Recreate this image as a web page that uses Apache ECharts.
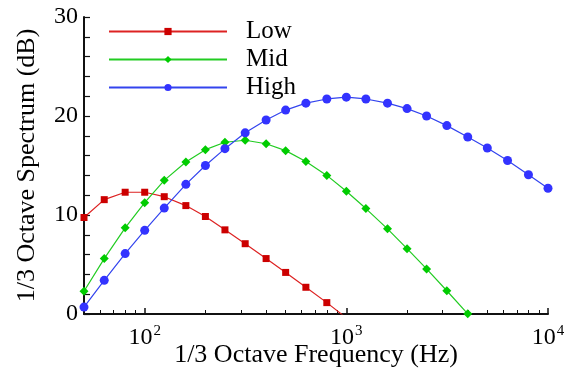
<!DOCTYPE html>
<html>
<head>
<meta charset="utf-8">
<script src="https://cdn.jsdelivr.net/npm/echarts@6/dist/echarts.min.js"></script>
<style>
  html, body { margin: 0; padding: 0; background: #fff; }
  #chart { width: 570px; height: 369px; }
</style>
</head>
<body>
<div id="chart"></div>
<script>
// 1/3 octave band centre frequencies (Hz)
const freqs = [50, 63, 80, 100, 125, 160, 200, 250, 315, 400, 500, 630, 800, 1000,
               1250, 1600, 2000, 2500, 3150, 4000, 5000, 6300, 8000, 10000];

// Spectrum levels (dB) per band
const lowLevels  = [9.75, 11.55, 12.3, 12.3, 11.85, 10.95, 9.85, 8.5, 7.1, 5.6, 4.2, 2.7, 1.15, -0.4];
const midLevels  = [2.3, 5.6, 8.7, 11.25, 13.5, 15.35, 16.6, 17.35, 17.55, 17.2, 16.5, 15.4, 14.0, 12.4,
                    10.65, 8.6, 6.6, 4.55, 2.35, 0.02];
const highLevels = [0.7, 3.4, 6.1, 8.45, 10.7, 13.1, 15.0, 16.7, 18.3, 19.6, 20.6, 21.3, 21.72, 21.9,
                    21.72, 21.3, 20.75, 20.0, 19.03, 17.88, 16.77, 15.5, 14.07, 12.7];

// Axis ticks
const majorFreqTicks = [100, 1000, 10000];
const minorFreqTicks = [60, 70, 80, 90, 200, 300, 400, 500, 600, 700, 800, 900,
                        2000, 3000, 4000, 5000, 6000, 7000, 8000, 9000];
const superscripts = { 100: '2', 1000: '3', 10000: '4' };

const FONT = 'Liberation Serif';
const AXIS_COLOR = '#111';

function pairs(levels) {
  return levels.map((v, i) => [freqs[i], v]);
}

const chart = echarts.init(document.getElementById('chart'), null, { renderer: 'canvas' });

const xCommon = {
  type: 'log',
  logBase: 10,
  min: 50,
  max: 10000,
  position: 'bottom',
  splitLine: { show: false },
  minorTick: { show: false }
};

chart.setOption({
  animation: false,
  backgroundColor: '#fff',
  textStyle: { fontFamily: FONT },
  grid: { left: 84, right: 22, top: 17, bottom: 55, outerBoundsMode: 'none', containLabel: false },
  legend: {
    orient: 'vertical',
    left: 103,
    top: 14,
    itemWidth: 118,
    itemHeight: 9,
    itemGap: 3,
    textStyle: {
      fontFamily: FONT,
      fontSize: 25,
      color: '#000',
      lineHeight: 20,
      padding: [0, 0, 0, 14]
    },
    data: ['Low', 'Mid', 'High']
  },
  xAxis: [
    Object.assign({}, xCommon, {
      name: '1/3 Octave Frequency (Hz)',
      nameLocation: 'middle',
      nameGap: 28,
      nameMoveOverlap: false,
      nameTextStyle: { fontFamily: FONT, fontSize: 26, color: '#000' },
      axisLine: { show: true, lineStyle: { color: AXIS_COLOR, width: 2 } },
      axisTick: { show: true, inside: true, length: 6, customValues: majorFreqTicks,
                  lineStyle: { color: AXIS_COLOR, width: 1.5 } },
      axisLabel: {
        show: true,
        customValues: majorFreqTicks,
        margin: 10,
        formatter: v => '{b|10}{s|' + (superscripts[Math.round(v)] || '') + '}',
        rich: {
          b: { fontFamily: FONT, fontSize: 24, color: '#000' },
          s: { fontFamily: FONT, fontSize: 15, color: '#000', padding: [0, 0, 12, 1] }
        }
      }
    }),
    Object.assign({}, xCommon, {
      axisLine: { show: false },
      axisLabel: { show: false },
      axisTick: { show: true, inside: true, length: 4, customValues: minorFreqTicks,
                  lineStyle: { color: AXIS_COLOR, width: 1 } }
    })
  ],
  yAxis: {
    type: 'value',
    min: 0,
    max: 30,
    interval: 2,
    name: '1/3 Octave Spectrum (dB)',
    nameLocation: 'middle',
    nameGap: 44,
    nameMoveOverlap: false,
    nameTextStyle: { fontFamily: FONT, fontSize: 26, color: '#000' },
    axisLine: { show: true, lineStyle: { color: AXIS_COLOR, width: 2 } },
    axisTick: { show: true, inside: true, length: 6, lineStyle: { color: AXIS_COLOR, width: 1.2 } },
    splitLine: { show: false },
    axisLabel: {
      fontFamily: FONT,
      fontSize: 24,
      color: '#000',
      margin: 6,
      formatter: v => (v % 10 === 0 ? String(v) : '')
    }
  },
  series: [
    {
      name: 'Low',
      type: 'line',
      xAxisIndex: 0,
      data: pairs(lowLevels),
      clip: true,
      symbol: 'rect',
      symbolSize: 7,
      showAllSymbol: true,
      itemStyle: { color: '#cc0000' },
      lineStyle: { color: '#dd2222', width: 1.2 }
    },
    {
      name: 'Mid',
      type: 'line',
      xAxisIndex: 0,
      data: pairs(midLevels),
      clip: true,
      symbol: 'diamond',
      symbolSize: 9,
      showAllSymbol: true,
      itemStyle: { color: '#00cc00' },
      lineStyle: { color: '#22cc22', width: 1.2 }
    },
    {
      name: 'High',
      type: 'line',
      xAxisIndex: 0,
      data: pairs(highLevels),
      clip: true,
      symbol: 'circle',
      symbolSize: 9,
      showAllSymbol: true,
      itemStyle: { color: '#3333ff' },
      lineStyle: { color: '#3344ee', width: 1.2 }
    }
  ]
});
</script>
</body>
</html>
